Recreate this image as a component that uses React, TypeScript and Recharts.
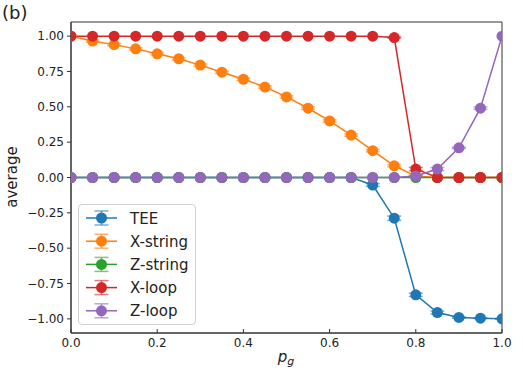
import React from 'react';
import { LineChart, Line, XAxis, YAxis, ErrorBar, Legend, ReferenceArea, Label } from 'recharts';

const pg = [0, 0.05, 0.1, 0.15, 0.2, 0.25, 0.3, 0.35, 0.4, 0.45, 0.5, 0.55, 0.6, 0.65, 0.7, 0.75, 0.8, 0.85, 0.9, 0.95, 1.0];

const tee = [0, 0, 0, 0, 0, 0, 0, 0, 0, 0, 0, 0, 0, 0, -0.053, -0.288, -0.83, -0.955, -0.99, -0.995, -1.0];
const xString = [1.0, 0.965, 0.94, 0.91, 0.875, 0.84, 0.795, 0.745, 0.695, 0.64, 0.57, 0.49, 0.4, 0.3, 0.19, 0.083, 0.01, 0, 0, 0, 0];
const zString = [0, 0, 0, 0, 0, 0, 0, 0, 0, 0, 0, 0, 0, 0, 0, 0, 0, 0, 0, 0, 0];
const xLoop = [1, 1, 1, 1, 1, 1, 1, 1, 1, 1, 1, 1, 1, 1, 1, 0.99, 0.06, 0, 0, 0, 0];
const zLoop = [0, 0, 0, 0, 0, 0, 0, 0, 0, 0, 0, 0, 0, 0, 0, 0, 0.01, 0.06, 0.21, 0.49, 1.0];

const teeErr = [0, 0, 0, 0, 0, 0, 0, 0, 0, 0, 0, 0, 0, 0, 0.01, 0.015, 0.012, 0.01, 0.005, 0.003, 0.002];
const xStringErr = [0, 0.008, 0.008, 0.008, 0.008, 0.008, 0.008, 0.008, 0.008, 0.008, 0.008, 0.008, 0.008, 0.008, 0.008, 0.008, 0.005, 0, 0, 0, 0];
const zStringErr = [0, 0, 0, 0, 0, 0, 0, 0, 0, 0, 0, 0, 0, 0, 0, 0, 0, 0, 0, 0, 0];
const xLoopErr = [0, 0, 0, 0, 0, 0, 0, 0, 0, 0, 0, 0, 0, 0, 0, 0.005, 0.012, 0, 0, 0, 0];
const zLoopErr = [0, 0, 0, 0, 0, 0, 0, 0, 0, 0, 0, 0, 0, 0, 0, 0, 0.005, 0.01, 0.005, 0.008, 0];

const xTicks = [0, 0.2, 0.4, 0.6, 0.8, 1.0];
const yTicks = [-1, -0.75, -0.5, -0.25, 0, 0.25, 0.5, 0.75, 1];

const series = [
  { key: 'tee', name: 'TEE', color: '#1f77b4', values: tee, err: teeErr },
  { key: 'xString', name: 'X-string', color: '#ff7f0e', values: xString, err: xStringErr },
  { key: 'zString', name: 'Z-string', color: '#2ca02c', values: zString, err: zStringErr },
  { key: 'xLoop', name: 'X-loop', color: '#d62728', values: xLoop, err: xLoopErr },
  { key: 'zLoop', name: 'Z-loop', color: '#9467bd', values: zLoop, err: zLoopErr },
];

const data = pg.map((p, i) => {
  const row: Record<string, number> = { pg: p };
  series.forEach((s) => {
    row[s.key] = s.values[i];
    row[s.key + 'Err'] = s.err[i];
  });
  return row;
});

const FONT = 'DejaVu Sans, sans-serif';
const AXIS = '#333';
const CLIP = 'url(#plotClip)';

const XTick = (props: any) => {
  const { x, y, payload } = props;
  return (
    <g>
      <line x1={x} x2={x} y1={y} y2={y - 4} stroke={AXIS} />
      <text x={x} y={y + 14} textAnchor="middle" fontSize={12} fontFamily={FONT} fill="#222">
        {payload.value.toFixed(1)}
      </text>
    </g>
  );
};

const fmtY = (v: number) => v.toFixed(2).replace('-', '\u2212');

// marker clipped to the plot box, like matplotlib
const makeDot = (color: string) => (props: any) => {
  const { cx, cy, index } = props;
  if (cx == null || cy == null) return <g key={index} />;
  return <circle key={index} cx={cx} cy={cy} r={5.5} fill={color} clipPath={CLIP} />;
};

const LegendBox = () => (
  <div
    style={{
      width: 116,
      height: 119,
      border: '1px solid #d0d0d0',
      borderRadius: 4,
      background: 'rgba(255,255,255,0.8)',
    }}
  >
    <svg width={116} height={119}>
      {series.map((s, i) => {
        const cy = 13 + i * 23.2;
        return (
          <g key={s.key}>
            <line x1={7} x2={38} y1={cy} y2={cy} stroke={s.color} strokeWidth={1.5} />
            <line x1={22.5} x2={22.5} y1={cy - 7} y2={cy + 7} stroke={s.color} strokeOpacity={0.6} strokeWidth={1.5} />
            <line x1={15.5} x2={29.5} y1={cy - 7} y2={cy - 7} stroke={s.color} strokeOpacity={0.6} strokeWidth={1.5} />
            <line x1={15.5} x2={29.5} y1={cy + 7} y2={cy + 7} stroke={s.color} strokeOpacity={0.6} strokeWidth={1.5} />
            <circle cx={22.5} cy={cy} r={5.5} fill={s.color} />
            <text x={51} y={cy + 5.5} fontSize={15} fontFamily={FONT} fill="#222">
              {s.name}
            </text>
          </g>
        );
      })}
    </svg>
  </div>
);

export default function App() {
  return (
    <div style={{ position: 'absolute', left: 0, top: 0 }}>
      <LineChart width={523} height={377} data={data} margin={{ top: 22, right: 21, left: 0, bottom: 0 }}>
        <XAxis
          dataKey="pg"
          type="number"
          domain={[0, 1]}
          ticks={xTicks}
          allowDataOverflow
          height={44}
          tickSize={0}
          tickMargin={0}
          tickLine={false}
          tick={<XTick />}
          axisLine={{ stroke: AXIS }}
        >
          <Label
            content={() => (
              <text x={286} y={362} textAnchor="middle" fontFamily={FONT} fill="#222">
                <tspan fontSize={15} fontStyle="italic">p</tspan>
                <tspan fontSize={11} fontStyle="italic" dy={3}>g</tspan>
              </text>
            )}
          />
        </XAxis>
        <YAxis
          type="number"
          domain={[-1.1, 1.1]}
          ticks={yTicks}
          allowDataOverflow
          width={71}
          tickSize={4}
          tickMargin={3}
          tickFormatter={fmtY}
          tick={{ fontSize: 12, fontFamily: FONT, fill: '#222' }}
          tickLine={{ stroke: AXIS }}
          axisLine={{ stroke: AXIS }}
        >
          <Label
            content={() => (
              <g>
                <defs>
                  <clipPath id="plotClip">
                    <rect x={71} y={22} width={431} height={311} />
                  </clipPath>
                </defs>
                <text
                  x={17}
                  y={177}
                  transform="rotate(-90 17 177)"
                  textAnchor="middle"
                  fontSize={15}
                  fontFamily={FONT}
                  fill="#222"
                >
                  average
                </text>
                <text x={2} y={19} fontSize={18} fontFamily={FONT} fill="#222">
                  (b)
                </text>
              </g>
            )}
          />
        </YAxis>
        <ReferenceArea x1={0} x2={1} y1={-1.1} y2={1.1} fill="none" stroke={AXIS} strokeOpacity={1} />
        {series.map((s) => (
          <Line
            key={s.key}
            dataKey={s.key}
            name={s.name}
            type="linear"
            stroke={s.color}
            strokeWidth={1.5}
            dot={makeDot(s.color)}
            activeDot={false}
            isAnimationActive={false}
          >
            <ErrorBar
              dataKey={s.key + 'Err'}
              direction="y"
              width={7}
              stroke={s.color}
              strokeOpacity={0.6}
              strokeWidth={1.5}
              clipPath={CLIP}
            />
          </Line>
        ))}
        <Legend
          layout="vertical"
          align="center"
          verticalAlign="middle"
          content={() => <LegendBox />}
          wrapperStyle={{ position: 'absolute', left: 78, top: 204, width: 118, height: 121 }}
        />
      </LineChart>
    </div>
  );
}
